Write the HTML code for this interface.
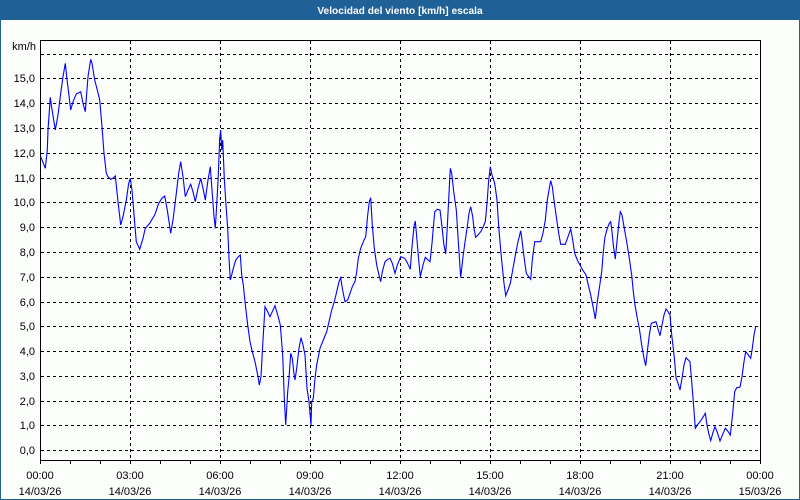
<!DOCTYPE html>
<html><head><meta charset="utf-8"><style>
html,body{margin:0;padding:0;background:#fff;}
body{width:800px;height:500px;overflow:hidden;position:relative;font-family:"Liberation Sans",Arial,sans-serif;}
</style></head><body>
<svg width="800" height="500" viewBox="0 0 800 500" xmlns="http://www.w3.org/2000/svg" style="position:absolute;left:0;top:0">
<rect x="0" y="0" width="800" height="500" fill="#fcfefc"/>
<rect x="0" y="0" width="800" height="20" fill="#1f6097"/>
<text x="400" y="14" font-family="Liberation Sans, Arial, sans-serif" font-size="10.2" font-weight="bold" fill="#fff" text-anchor="middle">Velocidad del viento [km/h] escala</text>
<line x1="0.5" y1="20" x2="0.5" y2="500" stroke="#1f6097"/>
<line x1="799.5" y1="20" x2="799.5" y2="500" stroke="#1f6097"/>
<line x1="0" y1="499.5" x2="800" y2="499.5" stroke="#1f6097"/>
<g stroke="#000" stroke-width="1" stroke-dasharray="3,3" fill="none" shape-rendering="crispEdges">
<line x1="41" y1="450.5" x2="760" y2="450.5"/>
<line x1="41" y1="425.5" x2="760" y2="425.5"/>
<line x1="41" y1="401.5" x2="760" y2="401.5"/>
<line x1="41" y1="376.5" x2="760" y2="376.5"/>
<line x1="41" y1="351.5" x2="760" y2="351.5"/>
<line x1="41" y1="326.5" x2="760" y2="326.5"/>
<line x1="41" y1="302.5" x2="760" y2="302.5"/>
<line x1="41" y1="277.5" x2="760" y2="277.5"/>
<line x1="41" y1="252.5" x2="760" y2="252.5"/>
<line x1="41" y1="227.5" x2="760" y2="227.5"/>
<line x1="41" y1="202.5" x2="760" y2="202.5"/>
<line x1="41" y1="178.5" x2="760" y2="178.5"/>
<line x1="41" y1="153.5" x2="760" y2="153.5"/>
<line x1="41" y1="128.5" x2="760" y2="128.5"/>
<line x1="41" y1="103.5" x2="760" y2="103.5"/>
<line x1="41" y1="78.5" x2="760" y2="78.5"/>
<line x1="41" y1="54.5" x2="760" y2="54.5"/>
<line x1="130.5" y1="41" x2="130.5" y2="460"/>
<line x1="220.5" y1="41" x2="220.5" y2="460"/>
<line x1="310.5" y1="41" x2="310.5" y2="460"/>
<line x1="400.5" y1="41" x2="400.5" y2="460"/>
<line x1="490.5" y1="41" x2="490.5" y2="460"/>
<line x1="580.5" y1="41" x2="580.5" y2="460"/>
<line x1="670.5" y1="41" x2="670.5" y2="460"/>
</g>
<rect x="40.5" y="40.5" width="720" height="420" fill="none" stroke="#000" stroke-width="1" shape-rendering="crispEdges"/>
<g stroke="#000" stroke-width="1" shape-rendering="crispEdges">
<line x1="40.5" y1="460" x2="40.5" y2="464"/><line x1="70.5" y1="460" x2="70.5" y2="464"/><line x1="100.5" y1="460" x2="100.5" y2="464"/><line x1="130.5" y1="460" x2="130.5" y2="464"/><line x1="160.5" y1="460" x2="160.5" y2="464"/><line x1="190.5" y1="460" x2="190.5" y2="464"/><line x1="220.5" y1="460" x2="220.5" y2="464"/><line x1="250.5" y1="460" x2="250.5" y2="464"/><line x1="280.5" y1="460" x2="280.5" y2="464"/><line x1="310.5" y1="460" x2="310.5" y2="464"/><line x1="340.5" y1="460" x2="340.5" y2="464"/><line x1="370.5" y1="460" x2="370.5" y2="464"/><line x1="400.5" y1="460" x2="400.5" y2="464"/><line x1="430.5" y1="460" x2="430.5" y2="464"/><line x1="460.5" y1="460" x2="460.5" y2="464"/><line x1="490.5" y1="460" x2="490.5" y2="464"/><line x1="520.5" y1="460" x2="520.5" y2="464"/><line x1="550.5" y1="460" x2="550.5" y2="464"/><line x1="580.5" y1="460" x2="580.5" y2="464"/><line x1="610.5" y1="460" x2="610.5" y2="464"/><line x1="640.5" y1="460" x2="640.5" y2="464"/><line x1="670.5" y1="460" x2="670.5" y2="464"/><line x1="700.5" y1="460" x2="700.5" y2="464"/><line x1="730.5" y1="460" x2="730.5" y2="464"/><line x1="760.5" y1="460" x2="760.5" y2="464"/>
</g>
<g font-family="Liberation Sans, Arial, sans-serif" font-size="11" fill="#000" text-anchor="end">
<text x="36" y="50">km/h</text>
<text x="35" y="454">0,0</text>
<text x="35" y="429">1,0</text>
<text x="35" y="405">2,0</text>
<text x="35" y="380">3,0</text>
<text x="35" y="355">4,0</text>
<text x="35" y="330">5,0</text>
<text x="35" y="306">6,0</text>
<text x="35" y="281">7,0</text>
<text x="35" y="256">8,0</text>
<text x="35" y="231">9,0</text>
<text x="35" y="206">10,0</text>
<text x="35" y="182">11,0</text>
<text x="35" y="157">12,0</text>
<text x="35" y="132">13,0</text>
<text x="35" y="107">14,0</text>
<text x="35" y="82">15,0</text>
</g>
<g font-family="Liberation Sans, Arial, sans-serif" font-size="11" fill="#000" text-anchor="middle">
<text x="40" y="479">00:00</text><text x="40" y="495">14/03/26</text>
<text x="130" y="479">03:00</text><text x="130" y="495">14/03/26</text>
<text x="220" y="479">06:00</text><text x="220" y="495">14/03/26</text>
<text x="310" y="479">09:00</text><text x="310" y="495">14/03/26</text>
<text x="400" y="479">12:00</text><text x="400" y="495">14/03/26</text>
<text x="490" y="479">15:00</text><text x="490" y="495">14/03/26</text>
<text x="580" y="479">18:00</text><text x="580" y="495">14/03/26</text>
<text x="670" y="479">21:00</text><text x="670" y="495">14/03/26</text>
<text x="760" y="479">00:00</text><text x="760" y="495">15/03/26</text>
</g>
<polyline fill="none" stroke="#0000ff" stroke-width="1.1" stroke-linejoin="miter" points="
40.7,156.7 45.3,168.3 47.3,150 48,130 50.3,97.3 51.3,105 55.3,130 58,115 60.7,93.3 63,76.7 65.3,63.3 66.7,76.7 68.7,93.3 70.7,110 73,101.7 76.3,94 80.7,91.7 83,103.3 85.3,111.7 88,76.7 90.7,59.3 92,63.3 94.7,80 97.3,90 99.7,100 102,126.7 104,153.3 106.3,173.3 108,176.7 110.7,179.3 113,178.3 115.3,176 118,201.7 120.7,225 123,216.7 126.3,200 128.7,183.3 130.3,178.3 132,190 134.7,223.3 136.3,241.7 139.7,249.3 143,238.3 145.3,228.3 149.7,223.3 154.7,215 158.7,203.3 162,198.3 164.7,196 167.3,210 170.7,233.3 173,220 176.3,193.3 178.7,173.3 180.7,161.7 183,176.7 185.3,196.7 188,190 190.7,184.3 193,191.7 195.3,201.7 198,188.3 200.7,178.3 203,188.3 205.3,200 208,180 210.3,166.7 212,190 214,216.7 215.3,228.3 216.7,205 218.3,175 219.7,138.3 220.7,130 221.7,150 222.7,140 224.3,178.3 226,205 227.7,228.3 229,258.3 230.3,280 231.7,275 233.3,268.3 235.7,260 238.3,256.7 240.3,255 241.7,275 243.3,285 245,301.7 247.7,325 250,341.7 252.3,351.7 255,361.7 257.7,375 259.3,385 261,376.7 262.7,345 265,306.7 267.7,311.7 270,316.7 272.3,311.7 275,305.7 277.7,315 280.3,325 282.7,355 284.3,398.3 285.7,425 287.7,391.7 289,378.3 290.7,353.3 292.3,358.3 293.7,371.7 295,380 296.7,368.3 299,348.3 301,337.7 303,345 305,355 307,388.3 309,401.7 310.3,416.7 311,425 311.7,401.7 313.3,398.3 315,378.3 316.7,365 320,348.3 323.3,340 326.7,331.7 329,321.7 331.7,310 334.3,301.7 336.7,291.7 339,281.7 340.7,277.7 342.3,288.3 345,301.7 347.7,300 350,293.3 352.3,286.7 355,281.7 356.7,271.7 358.3,258.3 360.7,248.3 363.3,241.7 365.7,236.7 367.7,215 369.3,201.7 370.7,197.7 372.3,225 374.3,248.3 376.7,265 379,275 380.7,281.7 382.3,271.7 385,261.7 387.7,259.3 390,258.3 392.3,263.3 395,273.3 397.3,265 400.7,256.7 404.7,258.3 407.3,262.7 410.3,269.3 412,246.7 414,226.7 415.3,221 416.7,236.7 418.7,260 420.3,276.7 423,265 425.3,257.3 428,260 430,261.7 432,243.3 434.7,211.7 437.3,209.3 440,210 442,226.7 443.7,243.3 445.7,254 447.3,226.7 449,193.3 450.3,168.3 451.7,173.3 453.7,191.7 456.3,210 458,236.7 459.3,256.7 460.7,277.7 463,256.7 465.3,240 467.3,226.7 469,213.3 470.7,206.7 472.7,216.7 474,228.3 475.7,237.3 478,235 480.7,231.7 483,227.3 485.3,221.7 487,203.3 488.7,180 490.3,166.7 492,175 494.7,183.3 497,200 498.7,226.7 500.7,250 502.3,266.7 504,283.3 505.7,295.7 508,290 510.3,283.3 513,268.3 515.7,253.3 518,241.7 520.7,230.7 522,240 524,256.7 526.3,273.3 528.7,276.7 530.7,279.3 532.3,260 534.7,241.7 537.3,241.7 540.7,241.7 543,233.3 545.3,220 547.3,200 549,190 550.7,180.7 552.3,186.7 554,200 556.3,216.7 558.7,233.3 560.7,244.3 565.3,244.3 568,236.7 570.7,229 572.7,240 574.7,253.3 577.3,260 580,265 582.7,270 586,275 588.3,285 590.7,295 592.7,305 594,311.7 595.3,319 597.3,301.7 599.3,288.3 601.7,271.7 603.3,251.7 605,236.7 607.3,228.3 609.3,223.3 610.7,221.7 612,231.7 613.3,245 615.3,259 617.3,238.3 619,221.7 620.3,211.7 622,215 624,226.7 626.7,241.7 629.3,258.3 631.7,275 633.3,291.7 635,305 637.3,318.3 639.3,328.3 641.7,345 644,358.3 645.7,365.7 647.7,348.3 649.3,335 651.3,323.3 654,322.3 656,321.7 658.3,330 660,335.7 662,325 664,315 666,309 668,311.7 670,315 671.7,335 673.3,348.3 674.7,361.7 676,377.7 678,383.3 680,390 682,378.3 684,365 686,357.7 688.3,360 690,361.7 691.7,381.7 693.3,401.7 695.3,428.3 697.3,425 700,421.7 702.7,417.7 705.3,413.3 707,425 708.7,433.3 710.7,440.7 712.7,433.3 715,426.7 717.3,432.3 720,441 722.7,434.3 725.3,428.3 727.7,431 730.3,435 732.7,413.3 734.7,391.7 736.7,387.7 740,387 742,376.7 744,361.7 745.7,351.7 748.3,355 750.7,358.3 752.3,348.3 754,335 755.7,326.7"/>
</svg>
</body></html>
